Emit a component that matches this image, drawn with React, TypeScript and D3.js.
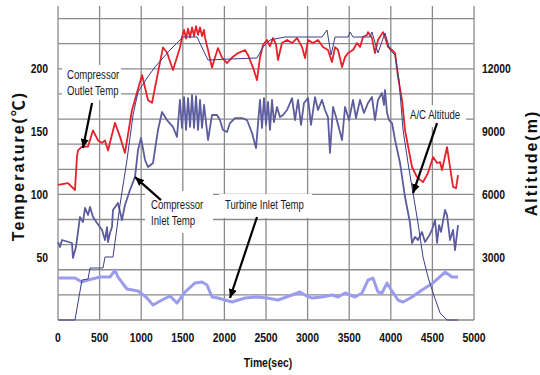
import React, { useRef, useEffect } from "react";
import * as d3 from "d3";

type Pt = [number, number]; // [time (sec), value]

const timeTicks = [0, 500, 1000, 1500, 2000, 2500, 3000, 3500, 4000, 4500, 5000];
const tempTicks = [50, 100, 150, 200];
const altTicks = [3000, 6000, 9000, 12000];

// Compressor Outlet Temp (℃)
const compOutlet: Pt[] = [
  [0, 107.5], [120, 109], [204, 103.5], [228, 130], [240, 135], [288, 138], [360, 138], [421, 151],
  [481, 143], [529, 141], [565, 143], [601, 135], [685, 157], [745, 146], [805, 133], [889, 167],
  [1010, 195], [1082, 175], [1130, 173], [1262, 217], [1310, 213], [1382, 199], [1466, 217], [1490, 225],
  [1515, 231], [1539, 224], [1563, 232], [1587, 225], [1611, 233], [1635, 226], [1659, 234], [1683, 227],
  [1707, 233], [1731, 226], [1755, 231], [1767, 225], [1803, 215], [1851, 201], [1887, 209], [1923, 216.5],
  [1971, 209], [2031, 204.5], [2092, 209], [2164, 212.5], [2248, 215], [2284, 211], [2344, 201], [2392, 191],
  [2428, 209], [2464, 219], [2512, 223], [2548, 218], [2584, 224.5], [2620, 219.7], [2644, 207], [2692, 220.5],
  [2753, 223], [2813, 220.5], [2873, 224.5], [2933, 217.3], [2969, 208.6], [3005, 223], [3065, 220.5], [3125, 223],
  [3185, 217.3], [3245, 215], [3293, 205.4], [3330, 217.3], [3366, 215], [3414, 201.4], [3450, 209.3], [3486, 212.5],
  [3546, 215], [3594, 220.5], [3630, 217.3], [3666, 225.3], [3714, 226.9], [3726, 229.2], [3774, 224.5], [3810, 212.5],
  [3846, 222.9], [3906, 229.2], [3930, 225.3], [3967, 217.3], [4015, 215], [4051, 212.5], [4087, 193.4], [4135, 175.1],
  [4171, 151.2], [4255, 121.8], [4315, 113.8], [4387, 109.8], [4447, 117], [4508, 129.7], [4556, 125], [4592, 125.8],
  [4616, 119.4], [4676, 137.7], [4712, 121.8], [4748, 105.9], [4784, 105], [4808, 115.4],
];

// Compressor Inlet Temp (℃)
const compInlet: Pt[] = [
  [0, 62.1], [24, 58.1], [48, 63.7], [168, 61.3], [180, 49.4], [216, 58.1], [264, 82], [300, 78],
  [325, 89.2], [361, 83.6], [385, 90], [421, 82], [469, 77.2], [529, 71.7], [565, 63.7], [589, 74],
  [601, 62.1], [625, 69.3], [649, 74], [661, 87.6], [721, 93.2], [769, 79.6], [805, 91.6], [865, 103.5],
  [926, 113.9], [962, 135.4], [998, 144.9], [1046, 127.4], [1082, 121.8], [1142, 125], [1202, 151.3], [1250, 165.6],
  [1310, 159.2], [1382, 153.7], [1430, 145.7], [1466, 175.2], [1490, 152.9], [1515, 177.5], [1539, 151.3], [1563, 176.7],
  [1587, 153.7], [1611, 179.1], [1635, 152.9], [1659, 178.3], [1683, 151.3], [1707, 175.2], [1731, 152.9], [1755, 171.2],
  [1803, 143.3], [1851, 163.2], [1911, 163.2], [1947, 159.2], [1983, 151.3], [2031, 149.7], [2067, 156.8], [2128, 160.8],
  [2212, 160.8], [2272, 159.2], [2332, 148.9], [2380, 136.9], [2428, 175.2], [2452, 152.9], [2476, 176.7], [2500, 155.3],
  [2524, 173.6], [2548, 151.3], [2572, 175.2], [2596, 157.6], [2632, 169.6], [2668, 161.6], [2705, 163.2], [2753, 167.2],
  [2813, 176.7], [2849, 159.2], [2885, 175.2], [2921, 155.3], [2957, 172.8], [3005, 176.7], [3041, 155.3], [3089, 177.5],
  [3125, 167.2], [3173, 175.2], [3209, 167.2], [3245, 161.6], [3269, 133], [3306, 169.6], [3342, 161.6], [3414, 143.3],
  [3450, 169.6], [3498, 159.2], [3546, 175.2], [3582, 160.8], [3630, 175.2], [3678, 164.8], [3726, 172.8], [3774, 177.5],
  [3810, 159.2], [3846, 175.2], [3894, 180.7], [3918, 171.2], [3930, 183.1], [3955, 164.8], [3979, 159.2], [4015, 156.8],
  [4051, 143.3], [4111, 125], [4171, 97.9], [4231, 77.2], [4255, 61.3], [4291, 66.1], [4327, 63.7], [4375, 70.1],
  [4411, 62.1], [4459, 66.9], [4495, 71.7], [4532, 79.6], [4556, 61.3], [4580, 75.6], [4604, 70.1], [4652, 87.6],
  [4676, 83.6], [4712, 63.7], [4748, 71.7], [4772, 55.7], [4808, 75.6],
];

// Turbine Inlet Temp (℃)
const turbineInlet: Pt[] = [
  [0, 33.4], [204, 33.4], [288, 30.3], [361, 31.8], [505, 34.2], [625, 34.2], [685, 39.8], [721, 34.2],
  [829, 24.7], [962, 23.1], [1058, 18.3], [1142, 11.9], [1250, 15.9], [1346, 19.1], [1430, 13.5], [1527, 22.3],
  [1647, 29.5], [1731, 30.3], [1791, 27.9], [1851, 18.3], [1923, 17.5], [2092, 14.3], [2248, 17.5], [2392, 18.3],
  [2512, 17.5], [2644, 15.9], [2813, 19.9], [2909, 22.3], [2969, 19.9], [3053, 17.5], [3173, 18.3], [3293, 19.9],
  [3366, 18.3], [3450, 21.5], [3570, 18.3], [3654, 21.5], [3726, 31.8], [3786, 33.4], [3846, 22.3], [3894, 21.5],
  [3955, 29.5], [3990, 25.5], [4087, 15.9], [4147, 14.3], [4255, 18.3], [4375, 23.9], [4508, 29.5], [4652, 38.2],
  [4736, 34.2], [4808, 34.2],
];

// A/C Altitude (m)
const altitude: Pt[] = [
  [0, 0], [204, 0], [288, 1911], [361, 1959], [385, 2484], [541, 2484], [565, 3010], [661, 3010],
  [745, 5494], [829, 7643], [902, 9793], [962, 10892], [1070, 11560], [1166, 12086], [1346, 12898], [1503, 13519],
  [1671, 13519], [1803, 12420], [2067, 12468], [2392, 12516], [2464, 13041], [2548, 13376], [2729, 13519], [3173, 13519],
  [3233, 13853], [3282, 12659], [3330, 13519], [3486, 13519], [3510, 13758], [3546, 13519], [3750, 13519], [3774, 13758],
  [3846, 12755], [3930, 13710], [3990, 12898], [4051, 12659], [4099, 11465], [4147, 9076], [4207, 7500], [4267, 6067],
  [4327, 4634], [4387, 3010], [4447, 2054], [4508, 1290], [4592, 334], [4676, 0], [4808, 0],
];

const SANS = "'Liberation Sans', Arial, 'Noto Sans CJK KR', sans-serif";
const SQUEEZE = 0.8; // no narrow font installed, so squeeze horizontally

const App: React.FC = () => {
  const svgRef = useRef<SVGSVGElement | null>(null);
  const width = 540;
  const height = 375;
  const plot = { left: 58, right: 474, top: 6, bottom: 320 };

  useEffect(() => {
    const svg = d3.select(svgRef.current);
    svg.selectAll("*").remove();

    const x = d3.scaleLinear().domain([0, 5000]).range([plot.left, plot.right]);
    const y = d3.scaleLinear().domain([0, 250]).range([plot.bottom, plot.top]);
    const yAlt = d3.scaleLinear().domain([0, 15000]).range([plot.bottom, plot.top]);

    const at = (px: number, py: number) => `translate(${px},${py}) scale(${SQUEEZE},1)`;

    svg.append("rect").attr("width", width).attr("height", height).attr("fill", "#fff");

    // grid
    const grid = svg.append("g").attr("stroke", "#8a8a8a").attr("stroke-width", 1.3);
    grid.selectAll("line.v").data(timeTicks).enter().append("line")
      .attr("x1", (d) => x(d)).attr("x2", (d) => x(d))
      .attr("y1", plot.top).attr("y2", plot.bottom);
    grid.selectAll("line.h").data(y.ticks(10)).enter().append("line")
      .attr("x1", plot.left).attr("x2", plot.right)
      .attr("y1", (d) => y(d)).attr("y2", (d) => y(d));

    // white label boxes (in data units)
    const boxes = [
      { t0: 48, t1: 757, v0: 175, v1: 203 },
      { t0: 1046, t1: 1863, v0: 69.3, v1: 102.7 },
      { t0: 1935, t1: 3053, v0: 81.2, v1: 100.3 },
      { t0: 4171, t1: 4904, v0: 153.6, v1: 171 },
    ];
    svg.append("g").selectAll("rect").data(boxes).enter().append("rect")
      .attr("x", (d) => x(d.t0)).attr("width", (d) => x(d.t1) - x(d.t0))
      .attr("y", (d) => y(d.v1)).attr("height", (d) => y(d.v0) - y(d.v1))
      .attr("fill", "#fff");

    const line = d3.line<Pt>().x((d) => x(d[0])).y((d) => y(d[1]));
    const lineAlt = d3.line<Pt>().x((d) => x(d[0])).y((d) => yAlt(d[1]));

    svg.append("path").attr("d", line(turbineInlet)).attr("fill", "none")
      .attr("stroke", "#9c9cee").attr("stroke-width", 3).attr("stroke-linejoin", "round");
    svg.append("path").attr("d", line(compInlet)).attr("fill", "none")
      .attr("stroke", "#5c5c9e").attr("stroke-width", 1.8).attr("stroke-linejoin", "round");
    svg.append("path").attr("d", line(compOutlet)).attr("fill", "none")
      .attr("stroke", "#e8202a").attr("stroke-width", 1.8).attr("stroke-linejoin", "round");
    svg.append("path").attr("d", lineAlt(altitude)).attr("fill", "none")
      .attr("stroke", "#3c3c8c").attr("stroke-width", 1);

    // tick labels
    const tickStyle = (s: any) =>
      s.style("font-family", SANS).style("font-weight", "bold").style("font-size", "13px").attr("fill", "#111");
    svg.append("g").selectAll("text").data(timeTicks).enter().append("text")
      .attr("transform", (d) => at(x(d), 342)).attr("text-anchor", "middle")
      .call(tickStyle).text((d) => d);
    svg.append("g").selectAll("text").data(tempTicks).enter().append("text")
      .attr("transform", (d) => at(48, y(d) + 4.5)).attr("text-anchor", "end")
      .call(tickStyle).text((d) => d);
    svg.append("g").selectAll("text").data(altTicks).enter().append("text")
      .attr("transform", (d) => at(482, yAlt(d) + 4.5)).attr("text-anchor", "start")
      .call(tickStyle).text((d) => d);

    // axis titles
    svg.append("text").attr("transform", "translate(24,166) rotate(-90)")
      .attr("text-anchor", "middle").style("font-family", SANS).style("font-weight", "bold")
      .style("font-size", "16px").style("letter-spacing", "2px").attr("fill", "#111")
      .text("Temperature(℃)");
    svg.append("text").attr("transform", "translate(537,163) rotate(-90)")
      .attr("text-anchor", "middle").style("font-family", SANS).style("font-weight", "bold")
      .style("font-size", "16px").style("letter-spacing", "2px").attr("fill", "#111")
      .text("Altitude(m)");
    svg.append("text").attr("transform", at(268, 367)).attr("text-anchor", "middle")
      .call(tickStyle).text("Time(sec)");

    // annotations
    const labels = [
      { t: 108, v: 192, text: "Compressor" },
      { t: 108, v: 179, text: "Outlet Temp" },
      { t: 1118, v: 88.4, text: "Compressor" },
      { t: 1118, v: 75.6, text: "Inlet Temp" },
      { t: 2007, v: 88.4, text: "Turbine Inlet Temp" },
      { t: 4231, v: 160, text: "A/C Altitude" },
    ];
    svg.append("g").selectAll("text").data(labels).enter().append("text")
      .attr("transform", (d) => at(x(d.t), y(d.v)))
      .style("font-family", SANS).style("font-size", "12px").attr("fill", "#1a1a1a")
      .text((d) => d.text);

    const defs = svg.append("defs");
    defs.append("marker").attr("id", "ah").attr("markerUnits", "userSpaceOnUse")
      .attr("markerWidth", 10).attr("markerHeight", 8).attr("refX", 9).attr("refY", 4)
      .attr("orient", "auto")
      .append("path").attr("d", "M0,0 L9,4 L0,8 Z").attr("fill", "#000");

    const arrows = [
      { from: [409, 172.7], to: [300, 137] },
      { from: [1238, 95.5], to: [926, 113.8] },
      { from: [2392, 82], to: [2067, 17.5] },
      { from: [4556, 156.8], to: [4267, 101] },
    ];
    svg.append("g").selectAll("line").data(arrows).enter().append("line")
      .attr("x1", (d) => x(d.from[0])).attr("y1", (d) => y(d.from[1]))
      .attr("x2", (d) => x(d.to[0])).attr("y2", (d) => y(d.to[1]))
      .attr("stroke", "#000").attr("stroke-width", 2.2).attr("marker-end", "url(#ah)");
  }, []);

  return (
    <svg
      ref={svgRef}
      width={width}
      height={height}
      style={{ position: "absolute", left: 0, top: 0 }}
    ></svg>
  );
};

export default App;
